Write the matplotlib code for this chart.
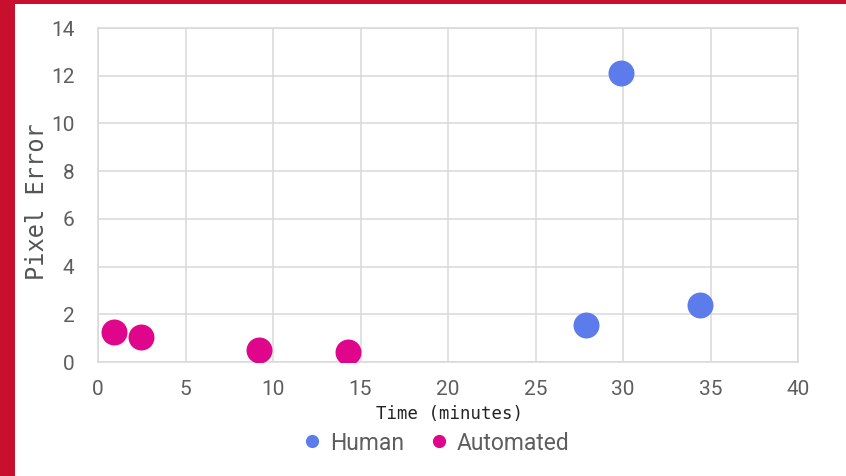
import matplotlib
matplotlib.use("Agg")
import matplotlib.pyplot as plt
from matplotlib.patches import Rectangle
from matplotlib.lines import Line2D

# Time taken (minutes) and resulting pixel error for each method
human_time = [29.9, 27.9, 34.4]
human_error = [12.1, 1.55, 2.38]
auto_time = [0.9, 2.45, 9.2, 14.3]
auto_error = [1.26, 1.05, 0.49, 0.42]

x_ticks = [0, 5, 10, 15, 20, 25, 30, 35, 40]
y_ticks = [0, 2, 4, 6, 8, 10, 12, 14]
series_names = ["Human", "Automated"]

HUMAN_COLOR = "#5B7CEA"
AUTO_COLOR = "#E0068C"
GRID_COLOR = "#D9D9D9"
TICK_COLOR = "#5E5E5E"
FRAME_RED = "#C8102E"

W, H = 846, 476
fig = plt.figure(figsize=(W / 100, H / 100), dpi=100, facecolor=FRAME_RED)

# white card inside the red frame (red strip on the left and top)
fig.patches.append(Rectangle((15 / W, 0), 1 - 15 / W, 1 - 4 / H,
                             transform=fig.transFigure, facecolor="white",
                             edgecolor="none", zorder=-10))

ax = fig.add_axes([98 / W, (H - 362) / H, 700 / W, 334 / H])
ax.set_facecolor("white")

ax.scatter(human_time, human_error, s=350, color=HUMAN_COLOR, linewidths=0, zorder=3)
ax.scatter(auto_time, auto_error, s=350, color=AUTO_COLOR, linewidths=0, zorder=3)

ax.set_xlim(x_ticks[0], x_ticks[-1])
ax.set_ylim(y_ticks[0], y_ticks[-1])
ax.set_xticks(x_ticks)
ax.set_yticks(y_ticks)
ax.grid(True, color=GRID_COLOR, linewidth=1.1)
ax.set_axisbelow(True)
for side in ax.spines.values():
    side.set_color(GRID_COLOR)
    side.set_linewidth(1.1)

ax.tick_params(axis="both", length=0, colors=TICK_COLOR, labelsize=15)
ax.tick_params(axis="x", pad=13)
ax.tick_params(axis="y", pad=17)
for lbl in ax.get_xticklabels() + ax.get_yticklabels():
    lbl.set_fontfamily("Roboto")

fig.text(37 / W, 1 - 202 / H, "Pixel Error", rotation=90, ha="center", va="center",
         fontsize=17, family="DejaVu Sans Mono", color="#555555")
fig.text(449 / W, 1 - 414 / H, "Time (minutes)", ha="center", va="center",
         fontsize=12.5, family="DejaVu Sans Mono", color="#222222")

handles = [Line2D([], [], marker="o", linestyle="none", markersize=9.5,
                  markerfacecolor=c, markeredgewidth=0)
           for c in (HUMAN_COLOR, AUTO_COLOR)]
leg = fig.legend(handles, series_names, loc="center", ncol=2, frameon=False,
                 bbox_to_anchor=(435 / W, 1 - 443 / H),
                 handletextpad=0.3, columnspacing=1.0, handlelength=1.0,
                 prop={"family": "Roboto", "size": 16.5})
for t in leg.get_texts():
    t.set_color("#5E5E5E")

fig.savefig("out.png", dpi=100, facecolor=FRAME_RED)
